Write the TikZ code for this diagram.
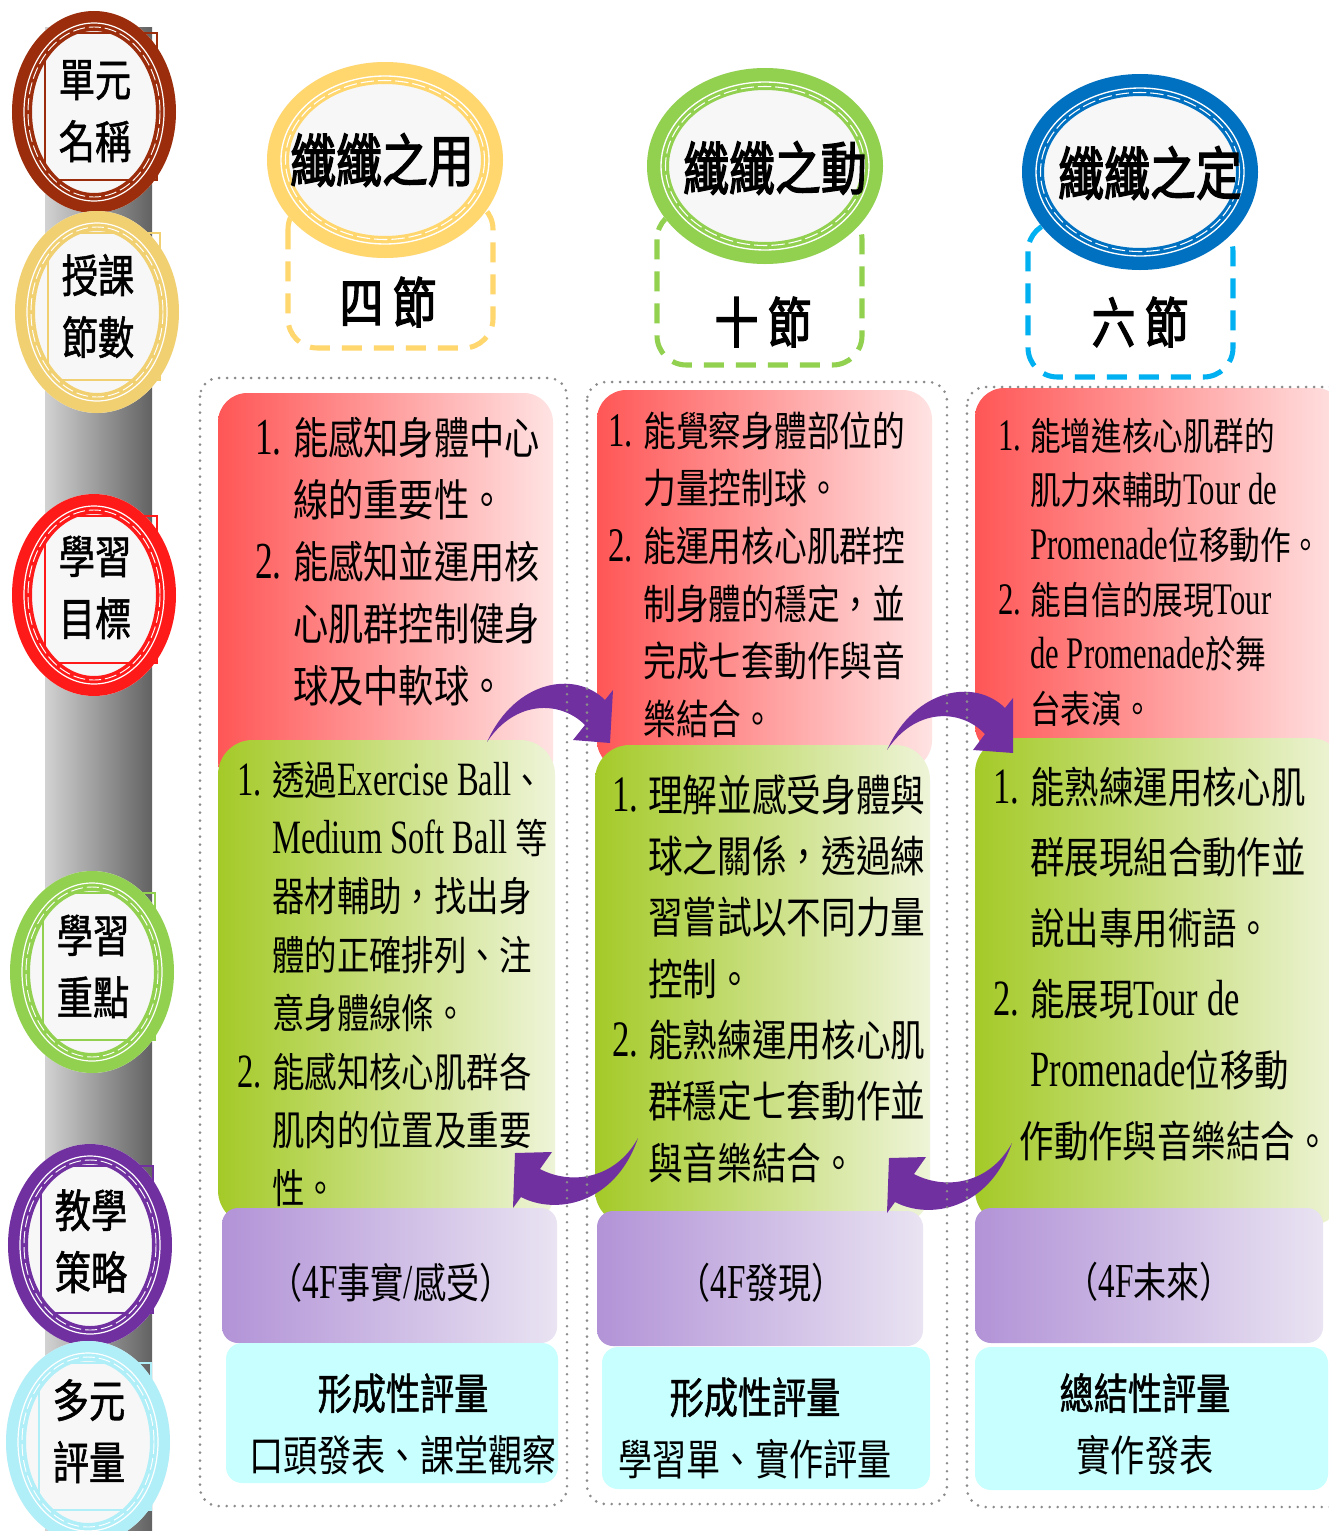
\documentclass[tikz,border=0pt]{standalone}
\usepackage{fontspec}
\usetikzlibrary{shapes.geometric}
\newfontfamily\cjk[FakeStretch=0.8]{Noto Sans CJK TC}
\newfontfamily\cjkb[FakeStretch=0.8,FakeBold=1.2]{Noto Sans CJK TC}
\newfontfamily\cjkh[FakeStretch=0.8,FakeBold=2.2]{Noto Sans CJK TC}
\newfontfamily\lat[FakeStretch=0.68,Scale=1.18]{Liberation Serif}
\definecolor{brownC}{HTML}{9B2D0C}
\definecolor{goldC}{HTML}{F1D072}
\definecolor{redC}{HTML}{FF1A1A}
\definecolor{greenC}{HTML}{92D050}
\definecolor{purpleC}{HTML}{7030A0}
\definecolor{cyanC}{HTML}{B0EEF8}
\definecolor{blueC}{HTML}{0070C0}
\definecolor{yellowC}{HTML}{FFD76E}
\definecolor{dashblue}{HTML}{00B0F0}
\definecolor{fillgray}{HTML}{F7F7F7}
\definecolor{barL}{HTML}{D2D2D2}
\definecolor{barR}{HTML}{626262}
\definecolor{redL}{HTML}{FF5656}
\definecolor{redR}{HTML}{FFE3E3}
\definecolor{greenL}{HTML}{A4CA28}
\definecolor{greenR}{HTML}{EEF4D8}
\definecolor{purL}{HTML}{B293D7}
\definecolor{purR}{HTML}{E9E3F2}
\definecolor{cyanF}{HTML}{C8FFFF}
\definecolor{dotgray}{HTML}{8C8C8C}
\tikzset{
  dotframe/.style={draw=dotgray, line width=2.2pt, dash pattern=on 0pt off 6pt, line cap=round, rounded corners=14pt},
  redbox/.style={left color=redL, right color=redR, rounded corners=22pt},
  greenbox/.style={left color=greenL, right color=greenR, rounded corners=26pt},
  purplebox/.style={left color=purL, right color=purR, rounded corners=12pt},
  cyanbox/.style={fill=cyanF, rounded corners=12pt},
  txt/.style={anchor=base west, inner sep=0pt},
  ctxt/.style={inner sep=0pt},
  bigarrow/.style={fill=purpleC},
  hdash/.style={line width=3.8pt, dash pattern=on 15pt off 9pt, rounded corners=22pt},
}
% side ring: name, cx, cy, colour, line1, line2, label-y
\newcommand\sidering[7]{%
  \fill[fillgray] (#2,#3) ellipse [x radius=82, y radius=101];
  \draw[#4, line width=0.8pt, shift={(#2,#3)}] (-49,-79) rectangle (63,68);
  \draw[#4, line width=15pt] (#2,#3) ellipse [x radius=72, y radius=91];
  \draw[white, line width=0.9pt] (#2,#3) ellipse [x radius=70, y radius=89];
  \draw[white, line width=0.7pt, dash pattern=on 9pt off 3pt] (#2,#3) ellipse [x radius=66, y radius=85];
  \node[ctxt, font=\cjkb\fontsize{34}{46.5}\selectfont] (#1) at (#2+1,#7) {\begin{tabular}{@{}c@{}}#5\\#6\end{tabular}};
}
% header ring: name, cx, cy, colour, text, text-x, text-y
\newcommand\headring[7]{%
  \fill[fillgray] (#2,#3) ellipse [x radius=118, y radius=98];
  \draw[#4, line width=16.5pt] (#2,#3) ellipse [x radius=107, y radius=87];
  \draw[white, line width=1pt] (#2,#3) ellipse [x radius=104, y radius=84];
  \draw[white, line width=0.8pt, dash pattern=on 10pt off 3pt] (#2,#3) ellipse [x radius=99.5, y radius=79.5];
  \node[ctxt, font=\cjkh\fontsize{43}{43}\selectfont] (#1) at (#6,#7) {#5};
}
\begin{document}
\begin{tikzpicture}[x=0.75pt,y=-0.75pt]
\useasboundingbox (0,0) rectangle (1328,1531);
\fill[white] (0,0) rectangle (1328,1531);

% grey bar
\shade[left color=barL, right color=barR] (45,27) rectangle (152,1531);

% side rings
\sidering{s1}{94}{112}{brownC}{單元}{名稱}{115}
\sidering{s2}{97}{312}{goldC}{授課}{節數}{311}
\sidering{s3}{94}{595}{redC}{學習}{目標}{592}
\sidering{s4}{92}{972}{greenC}{學習}{重點}{971}
\sidering{s5}{90}{1245}{purpleC}{教學}{策略}{1246}
\sidering{s6}{88}{1442}{cyanC}{多元}{評量}{1436}

% header dashed boxes
\draw[hdash, yellowC] (288,200) rectangle (493,348);
\draw[hdash, greenC] (657,210) rectangle (862,365);
\draw[hdash, dashblue] (1028,222) rectangle (1233,377);

% header rings
\headring{h1}{385}{160}{yellowC}{纖纖之用}{382}{160}
\headring{h2}{765}{166}{greenC}{纖纖之動}{775}{168}
\headring{h3}{1140}{172}{blueC}{纖纖之定}{1150}{173}

\node[ctxt, font=\cjkh\fontsize{41}{41}\selectfont] (n1) at (388,302) {四\hspace{7pt}節};
\node[ctxt, font=\cjkh\fontsize{41}{41}\selectfont] (n2) at (763,322) {十\hspace{7pt}節};
\node[ctxt, font=\cjkh\fontsize{41}{41}\selectfont] (n3) at (1140,322) {六\hspace{7pt}節};

% red boxes
\path[redbox] (218,393) rectangle (553,790);
\path[redbox] (597,390) rectangle (932,770);
\path[redbox] (975,388) rectangle (1345,755);

% green boxes
\path[greenbox] (218,740) rectangle (555,1225);
\path[greenbox] (595,745) rectangle (930,1225);
\path[greenbox] (975,738) rectangle (1345,1225);

% purple boxes
\path[purplebox] (222,1208) rectangle (557,1343);
\path[purplebox] (597,1211) rectangle (923,1346);
\path[purplebox] (975,1208) rectangle (1323,1343);

% cyan boxes
\path[cyanbox] (226,1343) rectangle (558,1483);
\path[cyanbox] (602,1347) rectangle (930,1489);
\path[cyanbox] (975,1347) rectangle (1328,1490);

% red texts
\node[txt, font=\cjk\fontsize{33}{46.5}\selectfont] (r1) at (255,454) {\begin{tabular}[t]{@{}p{28.5pt}@{}l@{}}
{\lat 1.} & 能感知身體中心\\
 & 線的重要性。\\
{\lat 2.} & 能感知並運用核\\
 & 心肌群控制健身\\
 & 球及中軟球。
\end{tabular}};
\node[txt, font=\cjk\fontsize{30.7}{43.3}\selectfont] (r2) at (608,446) {\begin{tabular}[t]{@{}p{26.25pt}@{}l@{}}
{\lat 1.} & 能覺察身體部位的\\
 & 力量控制球。\\
{\lat 2.} & 能運用核心肌群控\\
 & 制身體的穩定，並\\
 & 完成七套動作與音\\
 & 樂結合。
\end{tabular}};
\node[txt, font=\cjk\fontsize{28.7}{41}\selectfont] (r3) at (998,450) {\begin{tabular}[t]{@{}p{24pt}@{}l@{}}
{\lat 1.} & 能增進核心肌群的\\
 & 肌力來輔助{\lat Tour de}\\
 & {\lat Promenade}位移動作。\\
{\lat 2.} & 能自信的展現{\lat Tour}\\
 & {\lat de Promenade}於舞\\
 & 台表演。
\end{tabular}};

% green texts
\node[txt, font=\cjk\fontsize{30.4}{43.8}\selectfont] (g1) at (237,795) {\begin{tabular}[t]{@{}p{26.25pt}@{}l@{}}
{\lat 1.} & 透過{\lat Exercise Ball}、\\
 & {\lat Medium Soft Ball }等\\
 & 器材輔助，找出身\\
 & 體的正確排列、注\\
 & 意身體線條。\\
{\lat 2.} & 能感知核心肌群各\\
 & 肌肉的位置及重要\\
 & 性。
\end{tabular}};
\node[txt, font=\cjk\fontsize{32.5}{46}\selectfont] (g2) at (612,811) {\begin{tabular}[t]{@{}p{27pt}@{}l@{}}
{\lat 1.} & 理解並感受身體與\\
 & 球之關係，透過練\\
 & 習嘗試以不同力量\\
 & 控制。\\
{\lat 2.} & 能熟練運用核心肌\\
 & 群穩定七套動作並\\
 & 與音樂結合。
\end{tabular}};
\node[txt, font=\cjk\fontsize{32.3}{53.2}\selectfont] (g3) at (993,803) {\begin{tabular}[t]{@{}p{27.75pt}@{}l@{}}
{\lat 1.} & 能熟練運用核心肌\\
 & 群展現組合動作並\\
 & 說出專用術語。\\
{\lat 2.} & 能展現{\lat Tour de}\\
 & {\lat Promenade}位移動\\
 & \hspace*{-8pt}作動作與音樂結合。
\end{tabular}};

% purple texts
\node[ctxt, font=\cjk\fontsize{31}{31}\selectfont] (p1) at (391,1283) {（{\lat 4F}事實{\lat /}感受）};
\node[ctxt, font=\cjk\fontsize{31}{31}\selectfont] (p2) at (761,1283) {（{\lat 4F}發現）};
\node[ctxt, font=\cjk\fontsize{31}{31}\selectfont] (p3) at (1149,1282) {（{\lat 4F}未來）};

% cyan texts
\node[ctxt, font=\cjk\fontsize{32}{46.5}\selectfont] (c1) at (403,1428) {\begin{tabular}{@{}c@{}}{\cjkb 形成性評量}\\口頭發表、課堂觀察\end{tabular}};
\node[ctxt, font=\cjk\fontsize{32}{46.5}\selectfont] (c2) at (755,1432) {\begin{tabular}{@{}c@{}}{\cjkb 形成性評量}\\學習單、實作評量\end{tabular}};
\node[ctxt, font=\cjk\fontsize{32}{46.5}\selectfont] (c3) at (1145,1428) {\begin{tabular}{@{}c@{}}{\cjkb 總結性評量}\\實作發表\end{tabular}};

% curved block arrows
\fill[bigarrow] (487,742) .. controls (515,680) and (575,670) .. (605,700) -- (613,690) -- (610,743) -- (573,740) -- (585,725) .. controls (560,700) and (515,700) .. (487,742) -- cycle;
\fill[bigarrow] (887,750) .. controls (915,688) and (975,678) .. (1005,708) -- (1013,698) -- (1013,753) -- (973,750) -- (985,734) .. controls (960,708) and (915,708) .. (887,750) -- cycle;
\fill[bigarrow] (638,1138) .. controls (615,1205) and (555,1215) .. (521,1197) -- (513,1208) -- (515,1153) -- (552,1152) -- (540,1169) .. controls (570,1185) and (615,1180) .. (638,1138) -- cycle;
\fill[bigarrow] (1012,1143) .. controls (989,1210) and (929,1220) .. (895,1202) -- (887,1213) -- (889,1158) -- (926,1157) -- (914,1174) .. controls (944,1190) and (989,1185) .. (1012,1143) -- cycle;

% dotted column frames
\draw[dotframe] (200,378) rectangle (567,1506);
\draw[dotframe] (587,382) rectangle (947,1504);
\draw[dotframe] (967,387) rectangle (1350,1507);
\end{tikzpicture}
\end{document}
